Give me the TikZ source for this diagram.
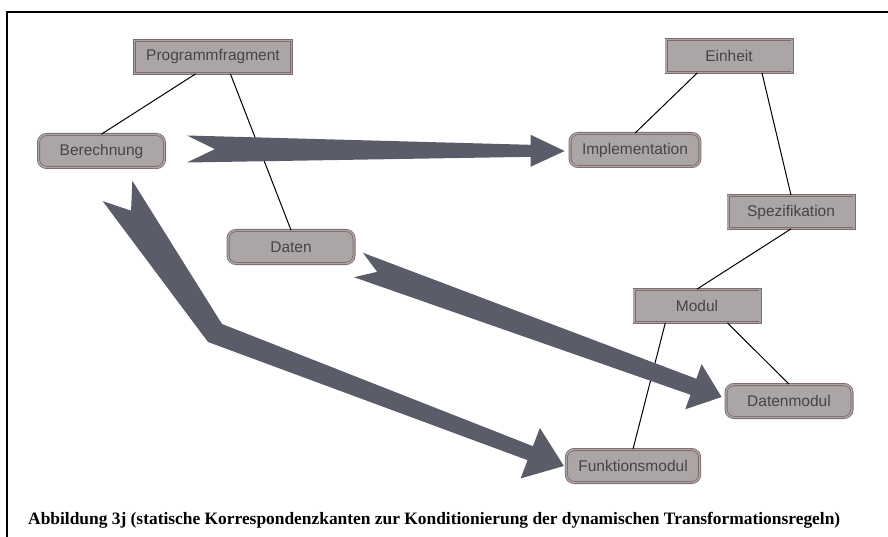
\documentclass[tikz,border=0pt]{standalone}
\usepackage{fontspec}
\setmainfont{Liberation Serif}
\setsansfont{Liberation Sans}
\usetikzlibrary{calc}
\definecolor{nodefill}{HTML}{ACA5A5}
\definecolor{nodeline}{HTML}{7E6A6A}
\definecolor{arrowcol}{HTML}{5A5C69}
\definecolor{txt}{HTML}{454545}
\newcommand\fatarrow[7]{%
  \coordinate (#1-#2-hb) at ($(#2)!#6!(#1)$);
  \fill[arrowcol] ($(#1)!#3!90:(#2)$) -- ($(#1-#2-hb)!#4!90:(#2)$)
    -- ($(#1-#2-hb)!#5!90:(#2)$) -- (#2) -- ($(#1-#2-hb)!#5!-90:(#2)$)
    -- ($(#1-#2-hb)!#4!-90:(#2)$) -- ($(#1)!#3!-90:(#2)$)
    -- ($(#1)!#7!(#2)$) -- cycle;}
\tikzset{
  basebox/.style={fill=nodefill, draw=nodeline, double=nodefill, double distance=1.4pt,
    line width=0.8pt, text=txt, font=\fontsize{15.5}{18}\selectfont\sffamily,
    minimum width=126pt, minimum height=33pt, inner xsep=12pt},
  rectbox/.style={basebox},
  roundbox/.style={basebox, rounded corners=8pt},
  thinline/.style={draw=black, line width=1pt}
}
\begin{document}
\begin{tikzpicture}[x=1pt,y=-1pt]
\useasboundingbox (0,0) rectangle (888,537);
\fill[white] (0,0) rectangle (888,537);
% frame
\draw[line width=2.5pt] (7,537) -- (7,12) -- (888,12);
% nodes
\node[rectbox] (pf) at (213,57) {Programmfragment};
\node[roundbox] (ber) at (101.5,151) {Berechnung};
\node[roundbox] (impl) at (635,150) {Implementation};
\node[rectbox] (ein) at (729,56) {Einheit};
\node[rectbox] (spez) at (791,212) {Spezifikation};
\node[roundbox] (dat) at (291,247) {Daten};
\node[rectbox] (mod) at (697,306) {Modul};
\node[roundbox] (dm) at (789,401) {Datenmodul};
\node[roundbox] (fm) at (633,466) {Funktionsmodul};
% thin lines
\draw[thinline] ($(pf.south west)!0.39!(pf.south east)$) -- (ber.north);
\draw[thinline] ($(pf.south west)!0.61!(pf.south east)$) -- (dat.north);
\draw[thinline] ($(ein.south west)!0.25!(ein.south east)$) -- (impl.north);
\draw[thinline] ($(ein.south west)!0.76!(ein.south east)$) -- (spez.north);
\draw[thinline] (spez.south) -- (mod.north);
\draw[thinline] ($(mod.south west)!0.25!(mod.south east)$) -- (fm.north);
\draw[thinline] ($(mod.south west)!0.74!(mod.south east)$) -- (dm.north);
% fat arrows
\coordinate (t1) at ($(ber.east)+(22,-2)$);
\coordinate (p1) at ($(impl.west)+(-5,1)$);
\fatarrow{t1}{p1}{13.5pt}{6pt}{16pt}{34pt}{28pt}
\coordinate (t3) at ($(dat.east)+(4,18)$);
\coordinate (p3) at ($(dm.west)+(-4,-4)$);
\fatarrow{t3}{p3}{13pt}{8.5pt}{24pt}{30pt}{20pt}
\coordinate (t2) at ($(ber.south)+(16,23)$);
\coordinate (b2) at (215,333);
\coordinate (p2) at ($(fm.west)+(-2,0)$);
\coordinate (bendU) at (222,324);
\coordinate (bendL) at (208,342);
\coordinate (hb2) at ($(p2)!36pt!(b2)$);
\fill[arrowcol] ($(t2)!18pt!90:(b2)$) -- (bendU) -- ($(hb2)!7.5pt!90:(p2)$)
  -- ($(hb2)!27pt!90:(p2)$) -- (p2) -- ($(hb2)!27pt!-90:(p2)$)
  -- ($(hb2)!7.5pt!-90:(p2)$) -- (bendL) -- ($(t2)!18pt!-90:(b2)$)
  -- ($(t2)!24pt!(b2)$) -- cycle;
% caption
\node[anchor=base west, inner sep=0pt, font=\fontsize{17.4}{20}\selectfont\bfseries] (cap) at (28,524)
  {Abbildung 3j (statische Korrespondenzkanten zur Konditionierung der dynamischen Transformationsregeln)};
\end{tikzpicture}
\end{document}
